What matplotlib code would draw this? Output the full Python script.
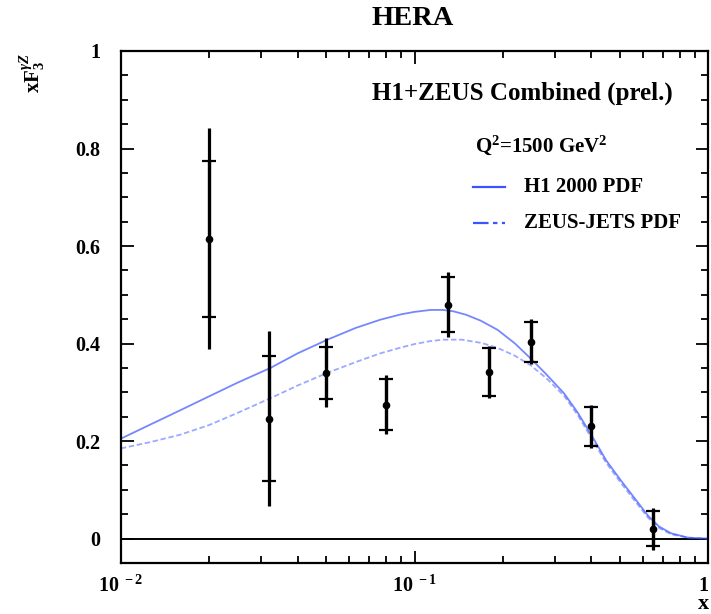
import numpy as np
import matplotlib
matplotlib.use("Agg")
import matplotlib.pyplot as plt
from matplotlib.ticker import FixedLocator, FixedFormatter, MultipleLocator, LogLocator, NullFormatter

plt.rcParams['font.family'] = ['Liberation Serif', 'DejaVu Serif']
plt.rcParams['font.weight'] = 'bold'
plt.rcParams['mathtext.fontset'] = 'custom'
plt.rcParams['mathtext.rm'] = 'Liberation Serif:bold'
plt.rcParams['mathtext.bf'] = 'Liberation Serif:bold'
plt.rcParams['mathtext.it'] = 'Liberation Serif:bold:italic'

# ---- data ----
data_x = [0.02, 0.032, 0.05, 0.08, 0.13, 0.18, 0.25, 0.4, 0.65]
data_y = [0.615, 0.246, 0.340, 0.275, 0.480, 0.342, 0.404, 0.230, 0.020]
stat_err = [0.160, 0.128, 0.054, 0.052, 0.056, 0.049, 0.041, 0.040, 0.036]
tot_err = [0.227, 0.180, 0.071, 0.060, 0.066, 0.053, 0.046, 0.045, 0.043]

h1_x = [0.01, 0.0126, 0.0159, 0.02, 0.025, 0.0323, 0.04, 0.0505, 0.063, 0.0765,
        0.09, 0.1, 0.1134, 0.125, 0.136, 0.15, 0.168, 0.192, 0.22, 0.249, 0.28,
        0.323, 0.36, 0.409, 0.45, 0.505, 0.56, 0.624, 0.68, 0.748, 0.855, 1.0]
h1_y = [0.205, 0.234, 0.263, 0.292, 0.320, 0.350, 0.380, 0.408, 0.432, 0.449,
        0.460, 0.465, 0.469, 0.469, 0.466, 0.459, 0.447, 0.428, 0.400, 0.369, 0.338,
        0.298, 0.258, 0.203, 0.160, 0.119, 0.084, 0.047, 0.025, 0.011, 0.002, 0.0]

zeus_x = [0.01, 0.0126, 0.0159, 0.02, 0.025, 0.0323, 0.04, 0.0505, 0.063, 0.0765,
          0.09, 0.1, 0.113, 0.125, 0.145, 0.17, 0.192, 0.22, 0.249, 0.28, 0.323,
          0.36, 0.409, 0.45, 0.505, 0.56, 0.624, 0.68, 0.748, 0.855, 1.0]
zeus_y = [0.185, 0.198, 0.213, 0.233, 0.258, 0.288, 0.314, 0.340, 0.362, 0.380,
          0.392, 0.399, 0.405, 0.408, 0.408, 0.401, 0.391, 0.375, 0.355, 0.330, 0.293,
          0.253, 0.197, 0.155, 0.114, 0.079, 0.043, 0.022, 0.009, 0.002, 0.0]

x_ticks = [0.01, 0.1, 1.0]
x_ticklabels = [r'$\mathregular{10^{\ -2}}$', r'$\mathregular{10^{\ -1}}$', '1']
y_ticks = [0, 0.2, 0.4, 0.6, 0.8, 1.0]
y_ticklabels = ['0', '0.2', '0.4', '0.6', '0.8', '1']

# ---- figure ----
fig = plt.figure(figsize=(7.11, 6.14), dpi=100)
ax = fig.add_axes([0.170, 0.083, 0.826, 0.834])
ax.set_xscale('log')
ax.set_xlim(0.01, 1.0)
ax.set_ylim(-0.05, 1.0)

blue = '#3a55ff'
ax.plot(h1_x, h1_y, color=blue, lw=1.3, alpha=0.7, zorder=2)
ax.plot(zeus_x, zeus_y, color=blue, lw=1.3, alpha=0.5, dashes=(3, 1.5), zorder=2)

ax.axhline(0, color='black', lw=1.4, zorder=1)

ax.errorbar(data_x, data_y, yerr=tot_err, fmt='none', ecolor='black',
            elinewidth=2.3, capsize=0, zorder=3)
ax.errorbar(data_x, data_y, yerr=stat_err, fmt='o', color='black', ms=4.5,
            ecolor='black', elinewidth=2.3, capsize=4.8, capthick=1.6, zorder=4)

# ticks
ax.xaxis.set_major_locator(FixedLocator(x_ticks))
ax.xaxis.set_major_formatter(FixedFormatter(x_ticklabels))
ax.xaxis.set_minor_locator(LogLocator(base=10, subs=np.arange(2, 10)))
ax.xaxis.set_minor_formatter(NullFormatter())
ax.yaxis.set_major_locator(FixedLocator(y_ticks))
ax.yaxis.set_major_formatter(FixedFormatter(y_ticklabels))
ax.yaxis.set_minor_locator(MultipleLocator(0.05))

ax.tick_params(which='both', direction='in', top=True, right=True, width=1.3,
               labelsize=14.5)
ax.tick_params(which='major', length=9)
ax.tick_params(which='minor', length=5)
ax.tick_params(axis='y', which='major', pad=15)
ax.tick_params(axis='x', which='major', pad=9)
for s in ax.spines.values():
    s.set_linewidth(1.6)

fig.canvas.draw()
last_lbl = ax.get_xticklabels()[-1]
last_lbl.set_horizontalalignment('right')

# texts
fig.text(0.580, 0.970, 'HERA', ha='center', va='center', fontsize=20.5, fontweight='bold')
ax.text(0.940, 0.918, 'H1+ZEUS Combined (prel.)', transform=ax.transAxes,
        ha='right', va='center', fontsize=18, fontweight='bold')
ax.text(0.603, 0.816, r'Q$^{\mathregular{2}}$=1500 GeV$^{\mathregular{2}}$', transform=ax.transAxes,
        ha='left', va='center', fontsize=15, fontweight='bold')

ax.plot([0.600, 0.654], [0.734, 0.734], transform=ax.transAxes, color=blue, lw=1.6)
ax.plot([0.600, 0.654], [0.664, 0.664], transform=ax.transAxes, color=blue, lw=1.6,
        dashes=(7, 2, 2, 2))
ax.text(0.686, 0.734, 'H1 2000 PDF', transform=ax.transAxes, ha='left', va='center',
        fontsize=15, fontweight='bold')
ax.text(0.686, 0.664, 'ZEUS-JETS PDF', transform=ax.transAxes, ha='left', va='center',
        fontsize=15, fontweight='bold')

fig.text(0.046, 0.881, r'xF$_{\mathregular{3}}^{\gamma Z}$', rotation=90, ha='center',
         va='center', fontsize=15, fontweight='bold')
fig.text(0.990, 0.016, 'x', ha='center', va='center', fontsize=16, fontweight='bold')

fig.savefig('out.png', dpi=100)
